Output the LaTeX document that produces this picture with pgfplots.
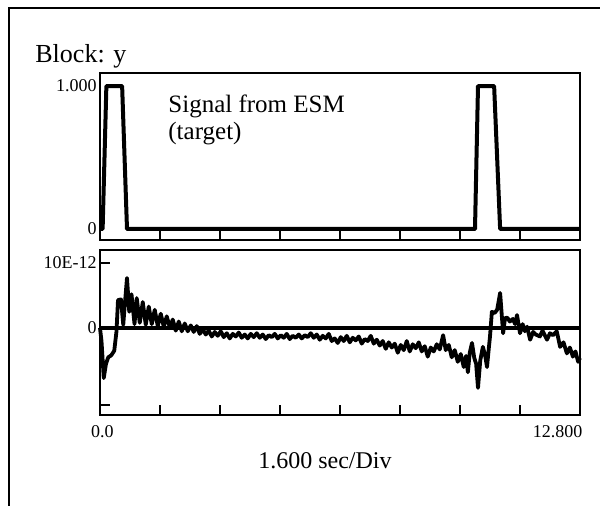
\documentclass[border=0pt]{standalone}
\usepackage{pgfplots}
\pgfplotsset{compat=1.18}
\usepackage{fontspec}
\setmainfont{Liberation Serif}

\pgfplotstableread{
x y
0.00 0
0.04 -2
0.10 -7.7
0.16 -5.5
0.22 -4.5
0.30 -4.2
0.38 -3.5
0.44 -0.5
0.48 4.3
0.56 4.4
0.62 0.5
0.66 3.5
0.72 7.7
0.78 2.5
0.84 5.2
0.92 0.6
0.98 4.6
1.06 0.8
1.14 4.0
1.22 0.5
1.30 3.3
1.38 0.6
1.46 2.8
1.54 0.3
1.62 2.2
1.70 0.2
1.78 1.8
1.86 0.1
1.94 1.3
2.02 -0.4
2.10 1.0
2.18 -0.5
2.26 0.7
2.34 -0.5
2.42 0.4
2.50 -0.6
2.58 0.3
2.66 -0.9
2.74 -0.2
2.82 -1.0
2.90 -0.4
2.98 -1.3
3.06 -0.6
3.14 -1.2
3.22 -0.5
3.30 -1.4
3.38 -0.8
3.46 -1.6
3.54 -0.9
3.62 -1.3
3.70 -0.7
3.78 -1.5
3.86 -1.0
3.94 -1.6
4.02 -0.9
4.10 -1.4
4.18 -0.8
4.26 -1.5
4.34 -1.0
4.42 -1.7
4.50 -1.1
4.58 -1.4
4.66 -0.9
4.74 -1.6
4.82 -1.1
4.90 -1.5
4.98 -0.9
5.06 -1.7
5.14 -1.2
5.22 -1.5
5.30 -1.0
5.38 -1.6
5.46 -1.1
5.54 -1.4
5.62 -0.8
5.70 -1.5
5.78 -1.0
5.86 -1.8
5.94 -1.2
6.02 -1.6
6.10 -0.9
6.18 -2.0
6.26 -1.6
6.34 -2.3
6.42 -1.4
6.50 -2.0
6.58 -1.2
6.66 -2.2
6.74 -1.5
6.82 -1.9
6.90 -1.3
6.98 -2.4
7.06 -1.7
7.14 -2.0
7.22 -1.2
7.30 -2.4
7.38 -1.8
7.46 -2.7
7.54 -2.0
7.62 -3.2
7.70 -2.2
7.78 -3.0
7.86 -2.4
7.94 -3.8
8.02 -2.6
8.10 -3.4
8.18 -2.0
8.26 -3.6
8.34 -2.5
8.42 -3.1
8.50 -2.2
8.58 -3.6
8.66 -2.8
8.74 -4.4
8.82 -3.0
8.90 -3.6
8.98 -2.5
9.06 -3.3
9.15 -1.1
9.22 -3.4
9.30 -2.6
9.38 -4.5
9.46 -3.4
9.54 -5.2
9.62 -4.0
9.70 -6.0
9.76 -4.3
9.81 -6.8
9.86 -3.8
9.92 -2.3
9.98 -4.6
10.03 -5.5
10.08 -9.2
10.14 -5.0
10.21 -2.9
10.27 -4.2
10.32 -6.0
10.37 -3.0
10.40 -1.3
10.45 2.5
10.52 2.3
10.59 2.8
10.67 5.4
10.72 1.5
10.75 -0.8
10.80 1.5
10.86 1.6
10.93 1.0
11.01 1.4
11.07 0.6
11.12 2.0
11.20 -0.8
11.27 0.6
11.33 -0.5
11.39 0.2
11.47 -1.8
11.55 -0.6
11.62 -1.0
11.73 -1.3
11.80 -0.4
11.92 -1.8
12.00 -0.8
12.08 -1.1
12.18 -0.5
12.27 -2.9
12.36 -2.2
12.45 -3.9
12.53 -3.0
12.61 -4.4
12.68 -3.6
12.75 -5.2
12.80 -4.6
}\errsig

\pgfplotsset{
  scopeplot/.style={
    scale only axis, width=240pt,
    xmin=0, xmax=12.8,
    axis line style={line width=1pt},
    tick align=inside, xtick pos=bottom, ytick pos=left,
    major tick length=5pt,
    every tick/.style={black, line width=1pt},
    xtick={1.6,3.2,4.8,6.4,8.0,9.6,11.2},
    xticklabels={,,,,,,},
    ticklabel style={font=\fontsize{9}{10}\selectfont, inner sep=1.5pt},
  },
}

\begin{document}
\begin{tikzpicture}
\path[use as bounding box] (0,0) rectangle (300pt,-252.5pt);
\draw[line width=1pt] (4.5pt,-260pt) -- (4.5pt,-4pt) -- (305pt,-4pt);

% upper scope: the signal
\begin{axis}[scopeplot, at={(50pt,-120pt)}, anchor=south west, height=83.5pt,
  ymin=-0.077, ymax=1.091,
  ytick={0,1}, yticklabels={0,1.000},
  ytick style={draw=none},
]
\addplot[black, line width=2pt, line join=round] coordinates {
  (0,0) (0.07,0) (0.17,1) (0.59,1) (0.72,0) (10.0,0) (10.08,1) (10.51,1) (10.67,0) (12.8,0)
};
\end{axis}

% lower scope: error
\begin{axis}[scopeplot, at={(50pt,-207.5pt)}, anchor=south west, height=82.5pt,
  ymin=-13.38, ymax=12, clip=false,
  ytick={-11.85,10}, yticklabels={,10E-12},
  extra y ticks={0}, extra y tick labels={0},
  extra y tick style={tick style={draw=none}},
]
\addplot[black, line width=1.6pt] coordinates {(0,0) (12.8,0)};
\addplot[black, line width=1.9pt, line join=round] table[x=x, y=y] {\errsig};
\node[anchor=north, font=\fontsize{9}{10}\selectfont, inner sep=0pt] at (rel axis cs:0.005,0) [yshift=-5pt] {0.0};
\node[anchor=north east, font=\fontsize{9}{10}\selectfont, inner sep=0pt] at (rel axis cs:1.006,0) [yshift=-5pt] {12.800};
\end{axis}

\node[anchor=west, inner sep=0pt, font=\fontsize{13}{15}\selectfont] at (17.5pt,-28pt) {Block: y};
\node[anchor=north west, inner sep=0pt, align=left, font=\fontsize{12.5}{13.5}\selectfont] at (84pt,-47pt) {Signal from ESM\\(target)};
\node[inner sep=0pt, font=\fontsize{12}{14}\selectfont] at (162.5pt,-230.5pt) {1.600 sec/Div};
\end{tikzpicture}
\end{document}
